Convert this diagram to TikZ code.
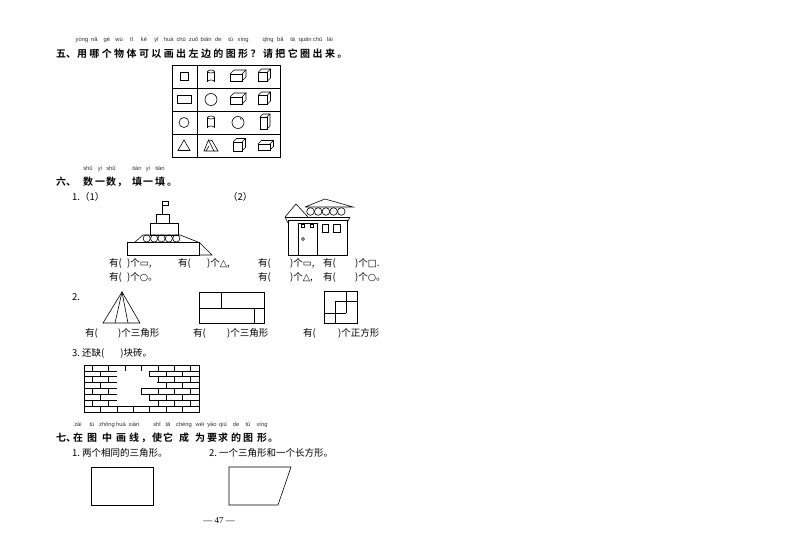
\documentclass[tikz,border=0pt]{standalone}
\usepackage{fontspec}
\setmainfont{Liberation Serif}
\newfontfamily\cjk{Noto Sans CJK SC}
\newfontfamily\cjkb{Noto Sans CJK SC Bold}
\newfontfamily\sym{DejaVu Sans}
\newfontfamily\py{Liberation Sans}
\tikzset{
 ln/.style={line width=0.6pt},
 hd/.style={inner sep=0,anchor=base,font=\cjkb\fontsize{10}{10}\selectfont},
 pyt/.style={inner sep=0,anchor=base,font=\py\fontsize{5.8}{6}\selectfont,text=black!80},
 bt/.style={inner sep=0,anchor=west,font=\cjk\fontsize{9.5}{10}\selectfont},
}
\newcommand\mycyl[2]{\draw[ln] (#1,#2-5) ellipse (3.5 and 1.5);
 \draw[ln] (#1-3.5,#2-5)--(#1-3.5,#2+5) arc(180:360:3.5 and 1.5)--(#1+3.5,#2-5);}
\newcommand\mybox[5]{\draw[ln] (#1,#2) rectangle (#1+#3,#2-#4);
 \draw[ln] (#1,#2-#4)--(#1+#5,#2-#4-#5)--(#1+#3+#5,#2-#4-#5)--(#1+#3,#2-#4);
 \draw[ln] (#1+#3+#5,#2-#4-#5)--(#1+#3+#5,#2-#5)--(#1+#3,#2);}
\begin{document}
\begin{tikzpicture}[x=1pt,y=-1pt]
\fill[white] (0,0) rectangle (800,543);
\path[use as bounding box] (0,0) rectangle (800,543);
% ===== 五
\node[hd,anchor=base west] (h5) at (56,57) {五、};
\foreach \c/\p [count=\i] in {用/yòng,哪/nǎ,个/gè,物/wù,体/tǐ,可/kě,以/yǐ,画/huà,出/chū,左/zuǒ,边/biān,的/de,图/tú,形/xíng,？/,请/qǐng,把/bǎ,它/tā,圈/quān,出/chū,来/lái,。/}{
 \node[hd] (c5\i) at ({82+(\i-1)*12.4},57) {\c};
 \node[pyt] (p5\i) at ({82+(\i-1)*12.4},42) {\p};}
% table
\draw[ln] (172,65) rectangle (280,157);
\foreach \yy in {88,111,134} \draw[ln] (172,\yy)--(280,\yy);
\draw[ln] (197,65)--(197,157);
\draw[ln] (180,72.5) rectangle (188,80.5);
\draw[ln] (177,95.5) rectangle (191,103.5);
\draw[ln] (184,122.5) circle (5);
\draw[ln] (178,150.5)--(184,140)--(190,150.5)--cycle;
\mycyl{211}{76.5}
\mybox{230}{81}{12}{7}{4}
\mybox{258}{81.5}{9}{9}{3.5}
\draw[ln] (211,99.5) circle (6);
\mybox{230}{104}{12}{7}{4}
\mybox{258}{104.5}{9}{9}{3.5}
\mycyl{211}{122.5}
\draw[ln] (238,122.5) circle (6); \draw[ln] (241,120) arc(20:-40:2);
\mybox{260}{129}{7}{12}{3}
\draw[ln] (204,151)--(208.5,140)--(214,151)--cycle;
\draw[ln] (208.5,140)--(212,140.5)--(218,151)--(214,151);
\draw[ln] (206,151)--(209,146);
\mybox{233}{151}{9}{9}{3.5}
\mybox{258}{150}{12}{6}{3.5}
% ===== 六
\node[hd,anchor=base west] (h6) at (56,185) {六、};
\foreach \c/\p/\xx [count=\i] in {数/shǔ/88,一/yi/100,数/shǔ/111,，//122,填/tián/137,一/yi/148,填/tián/160,。//172}{
 \node[hd] (c6\i) at (\xx,185) {\c};
 \node[pyt] (p6\i) at (\xx,170) {\p};}
\node[bt] (q1) at (72,197) {1.（1）};
\node[bt] (q2) at (228,197) {（2）};
% ship
\draw[ln] (127,242) rectangle (199,255);
\draw[ln] (199,242)--(212,255)--(199,255);
\draw[ln] (135,242)--(143,235)--(180,235)--(198,242);
\foreach \i in {0,...,4} \draw[ln] (146.7+\i*7.4,238.5) circle (3.6);
\draw[ln] (150,223) rectangle (178,235);
\draw[ln] (156,214) rectangle (169,223);
\draw[ln] (162,214)--(162,201);
\draw[ln] (162,201) rectangle (168,205.5);
% house
\draw[ln] (288,220) rectangle (347,255);
\draw[ln] (285,217)--(296,204)--(308,217);
\draw[ln] (285,217)--(288,223); \draw[ln] (350,217)--(347,223);
\draw[ln] (285,217)--(350,217);
\draw[ln] (305,207)--(325,199)--(353,207)--(305,207);
\foreach \i in {0,...,4} \draw[ln] (310.5+\i*7.7,211.5) circle (3.8);
\draw[ln] (298,223) rectangle (317,255);
\draw[ln] (301,224) rectangle (304,227); \draw[ln] (310,224) rectangle (313,227);
\draw[ln] (303,239) circle (1.5);
\draw[ln] (322,224) rectangle (328,232); \draw[ln] (333,224) rectangle (340,232);
% labels
\node[bt] (a1) at (109,263) {有(};
\node[bt] (a2) at (127,263) {)个{\sym ▭},};
\node[bt] (a3) at (178,263) {有(};
\node[bt] (a4) at (207,263) {)个{\sym △},};
\node[bt] (a5) at (109,277) {有(};
\node[bt] (a6) at (127,277) {)个{\sym ○}。};
\node[bt] (b1) at (258,263) {有(};
\node[bt] (b2) at (290,263) {)个{\sym ▭},};
\node[bt] (b3) at (323,263) {有(};
\node[bt] (b4) at (355,263) {)个{\sym □}.};
\node[bt] (b5) at (258,277) {有(};
\node[bt] (b6) at (290,277) {)个{\sym △},};
\node[bt] (b7) at (323,277) {有(};
\node[bt] (b8) at (355,277) {)个{\sym ○}。};
% part 2
\node[bt] (q3) at (72,297) {2.};
\draw[ln] (103,323)--(122,292)--(140,323)--cycle;
\draw[ln] (115,323)--(122,292)--(128,323);
\draw[ln] (199,292) rectangle (264,323);
\draw[ln] (199,308)--(264,308); \draw[ln] (221,292)--(221,308); \draw[ln] (254,308)--(254,323);
\draw[ln] (324,291) rectangle (357,323);
\draw[ln] (346,291)--(346,313); \draw[ln] (335,301)--(357,301);
\draw[ln] (335,301)--(335,323); \draw[ln] (324,313)--(346,313);
\node[bt] (c1) at (85,333) {有(};
\node[bt] (c2) at (118,333) {)个三角形};
\node[bt] (c3) at (193,333) {有(};
\node[bt] (c4) at (227,333) {)个三角形};
\node[bt] (c5) at (303,333) {有(};
\node[bt] (c6) at (338,333) {)个正方形};
\node[bt] (q4) at (72,353) {3.\ 还缺(\hspace{16pt})块砖。};
% brick wall
\begin{scope}
\def\rh{5.875}
\draw[ln] (84,365) rectangle (199,412);
\foreach \r in {1,...,7} \draw[ln] (84,365+\r*\rh)--(199,365+\r*\rh);
\foreach \r in {0,2,4,6} \foreach \k in {0,...,6} \draw[ln] (92.2+\k*16.43,365+\r*\rh)--++(0,\rh);
\foreach \r in {1,3,5,7} \foreach \k in {1,...,6} \draw[ln] (84+\k*16.43,365+\r*\rh)--++(0,\rh);
\foreach \r/\a/\b in {1/116.9/149.7,2/108.6/157.9,3/116.9/166.1,4/108.6/141.5,5/116.9/149.7,6/108.6/157.9}
 \fill[white] (\a+0.45,365+\r*\rh+0.45) rectangle (\b-0.45,365+\r*\rh+\rh-0.45);
\foreach \r/\a/\b in {2/116.9/149.7,3/116.9/157.9,4/116.9/141.5,5/116.9/141.5,6/116.9/149.7}
 \fill[white] (\a+0.45,365+\r*\rh-0.6) rectangle (\b-0.45,365+\r*\rh+0.6);
\end{scope}
% ===== 七
\node[hd,anchor=base west] (h7) at (56,441) {七、};
\foreach \c/\p/\xx [count=\i] in {在/zài/78,图/tú/92,中/zhōng/107,画/huà/121,线/xiàn/134,，//146,使/shǐ/157,它/tā/168,成/chéng/184,为/wéi/200,要/yào/212,求/qiú/223,的/de/236,图/tú/248,形/xíng/262,。//273}{
 \node[hd] (c7\i) at (\xx,441) {\c};
 \node[pyt] (p7\i) at (\xx,426) {\p};}
\node[bt] (q5) at (72,453) {1.\ 两个相同的三角形。};
\node[bt] (q6) at (209,453) {2.\ 一个三角形和一个长方形。};
\draw[ln] (91,467) rectangle (153,505);
\draw[ln] (229,467)--(291,467)--(278,505)--(229,505)--cycle;
\node[inner sep=0,font=\fontsize{9}{9}\selectfont] (pg) at (219,521) {— 47 —};
\end{tikzpicture}
\end{document}
